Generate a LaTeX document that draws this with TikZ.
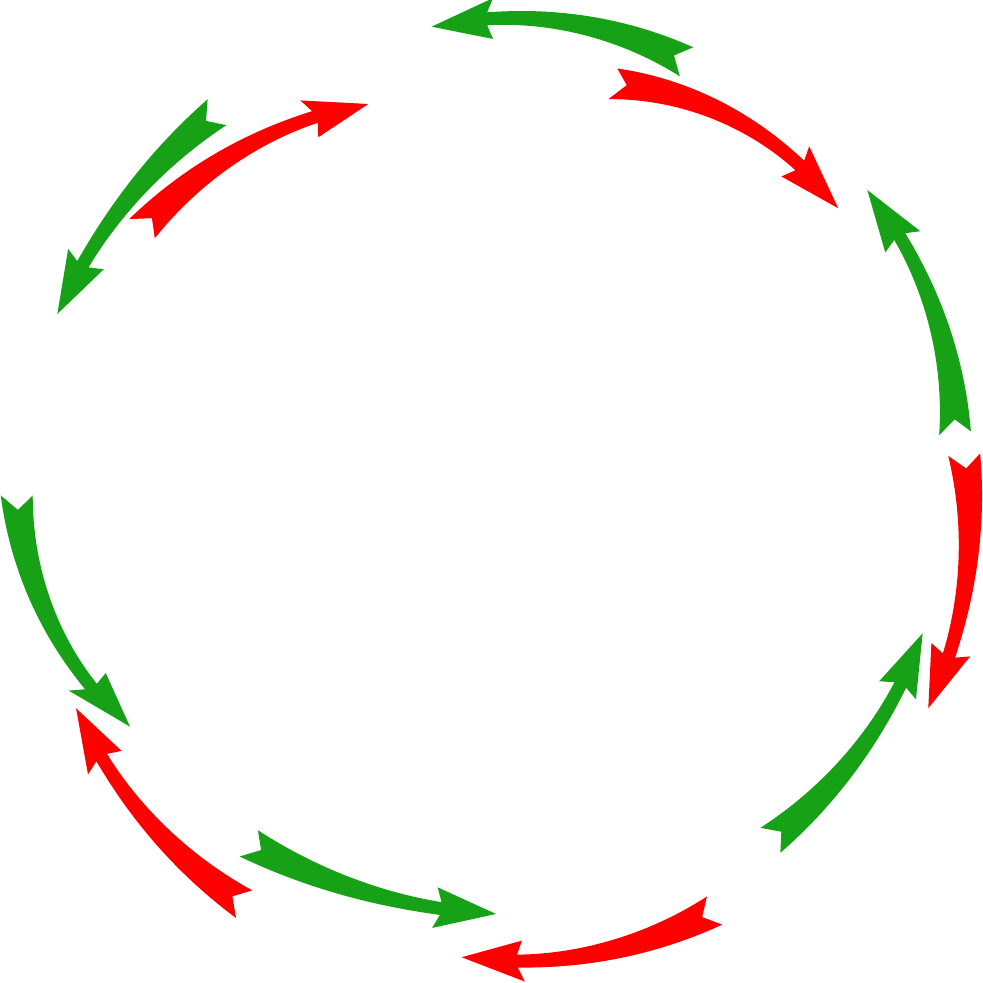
\documentclass[tikz,border=0pt]{standalone}
\usepackage{xcolor}
\usepackage{tikz}
\definecolor{LeafGreen}{HTML}{17A117}
\definecolor{SignalRed}{HTML}{FF0000}

% tapered arc arrow: colour, tail angle, tail radius, tip angle, tip radius, bulge
\newcommand{\swoosh}[6]{%
  \pgfmathsetmacro{\angA}{#2}\pgfmathsetmacro{\radA}{#3}%
  \pgfmathsetmacro{\angB}{#4}\pgfmathsetmacro{\radB}{#5}%
  \pgfmathsetmacro{\bulge}{#6}%
  \pgfmathsetmacro{\arclen}{abs((\angB)-(\angA))*pi/180*(\radA+\radB)/2}%
  \pgfmathsetmacro{\tneck}{(\arclen-56)/\arclen}%
  \pgfmathsetmacro{\tbarb}{(\arclen-62)/\arclen}%
  \pgfmathsetmacro{\tnotch}{14/\arclen}%
  \fill[#1] plot[domain=0:\tneck, samples=50] ({arcang(\x)}:{arcrad(\x)+halfw(\x)})
    -- ({arcang(\tbarb)}:{arcrad(\tbarb)+20.5})
    -- (\angB:\radB)
    -- ({arcang(\tbarb)}:{arcrad(\tbarb)-20.5})
    -- plot[domain=\tneck:0, samples=50] ({arcang(\x)}:{arcrad(\x)-halfw(\x)})
    -- ({arcang(\tnotch)}:{arcrad(\tnotch)})
    -- cycle;
}

\begin{document}
\begin{tikzpicture}[
  x=0.01cm, y=0.01cm,
  declare function={
    arcang(\s)=(\angA)+((\angB)-(\angA))*\s;
    arcrad(\s)=\radA+(\radB-\radA)*\s+4*\bulge*\s*(1-\s);
    halfw(\s)=6.5+9.5*(1-\s/\tneck)*sqrt(abs(1-\s/\tneck));
  },
  greenarc/.style={fill=LeafGreen},
  redarc/.style={fill=SignalRed}
]
\useasboundingbox (-491,-491) rectangle (492,491);

% counter-clockwise arrows
\foreach \aA/\rA/\aB/\rB/\bl in {65.5/471.6/97.3/468.1/5, 7.09/467.6/38.66/481.9/3.9,
    -51.35/447.3/-18.24/454.5/0, -124.52/427.6/-89.32/423.0/-5.1,
    180.52/474.3/213.14/431.1/7, 125.88/467.5/157.8/468.4/-2}
  \swoosh{greenarc}{\aA}{\rA}{\aB}{\rB}{\bl};

% clockwise arrows
\foreach \aA/\rA/\aB/\rB/\bl in {73.35/425.0/39.15/447.8/8.6, 4.39/474.6/-26.42/488.3/1.9,
    -61.93/475.4/-93.6/467.2/2.8, -120.85/481.3/-152.36/468.4/1,
    143.08/436.6/107.59/406.0/1.2}
  \swoosh{redarc}{\aA}{\rA}{\aB}{\rB}{\bl};
\end{tikzpicture}
\end{document}
